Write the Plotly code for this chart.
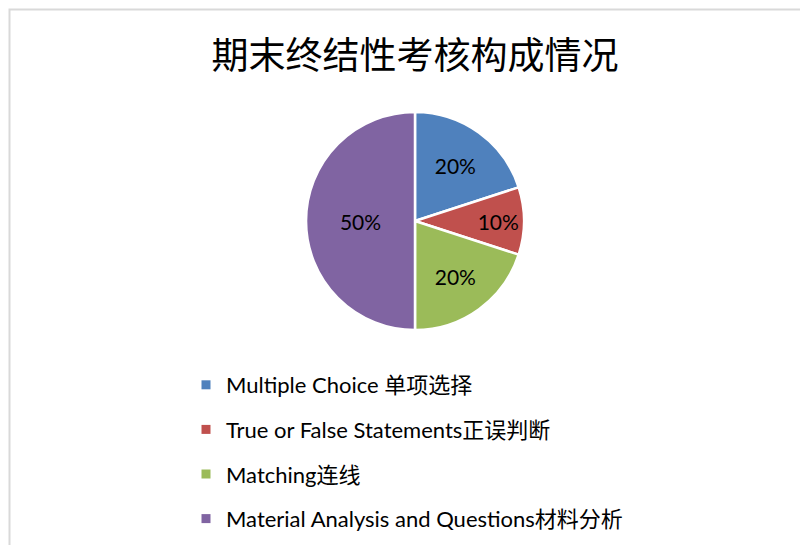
import plotly.graph_objects as go

categories = ["Multiple Choice 单项选择", "True or False Statements正误判断",
              "Matching连线", "Material Analysis and Questions材料分析"]
values = [20, 10, 20, 50]
colors = ["#4F81BD", "#C0504D", "#9BBB59", "#8064A2"]
title_text = "期末终结性考核构成情况"

# page body adds an 8px margin; figure sized to fit the window
W, H = 800, 537
font_main = "Lato, 'Noto Sans CJK SC', sans-serif"

cx, cy, hr = 407, 213, 109  # pie centre / half-size in figure pixels

fig = go.Figure()
fig.add_trace(go.Pie(
    labels=categories, values=values, sort=False, direction="clockwise", rotation=0,
    marker=dict(colors=colors, line=dict(color="white", width=2.5)),
    textinfo="percent", textposition="inside", insidetextorientation="horizontal",
    texttemplate="%{percent:.0%}",
    textfont=dict(family=font_main, size=21, color="black"),
    showlegend=False, hoverinfo="label+percent",
    domain=dict(x=[(cx - hr) / W, (cx + hr) / W], y=[1 - (cy + hr) / H, 1 - (cy - hr) / H]),
))
for i, (c, col) in enumerate(zip(categories, colors)):
    fig.add_trace(go.Scatter(
        x=[None], y=[None], mode="markers", name=c, legendgroup=f"g{i}",
        marker=dict(symbol="square", size=9, color=col), showlegend=True,
    ))

fig.update_layout(
    width=W, height=H, margin=dict(l=0, r=0, t=0, b=0),
    paper_bgcolor="white", plot_bgcolor="white",
    xaxis=dict(visible=False), yaxis=dict(visible=False),
    title=dict(text=title_text, x=407 / W, xanchor="center", y=1 - 48 / H, yanchor="middle",
               font=dict(family="'Noto Sans CJK SC', sans-serif", size=37, color="black")),
    legend=dict(x=178 / W, xanchor="left", y=1 - 356 / H, yanchor="top",
                font=dict(family=font_main, size=22, color="black"),
                tracegroupgap=13, itemclick=False, bgcolor="rgba(0,0,0,0)"),
    shapes=[dict(type="rect", xref="paper", yref="paper", x0=1.5 / W, x1=1.05, y0=-0.05, y1=1 - 1.5 / H,
                 line=dict(color="#D9D9D9", width=2), fillcolor="rgba(0,0,0,0)", layer="below")],
)
fig.write_html("out.html")
